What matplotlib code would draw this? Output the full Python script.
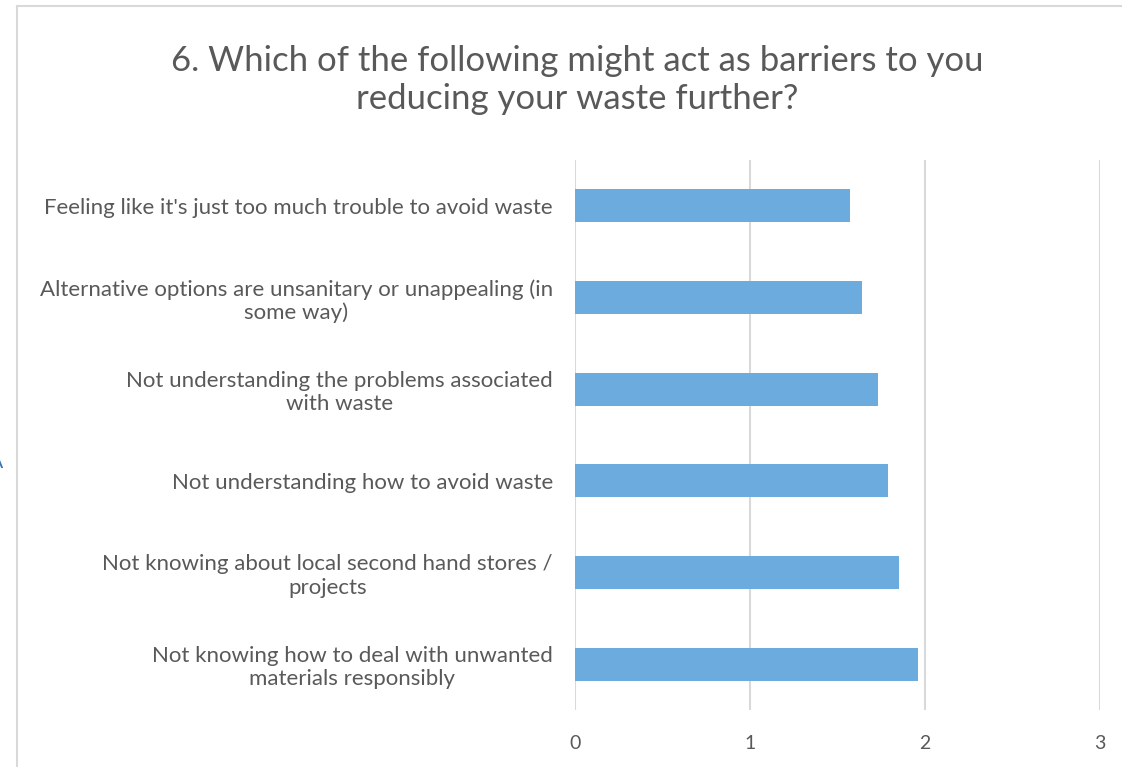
import matplotlib.pyplot as plt
from matplotlib.lines import Line2D

# categories listed top to bottom as in the chart
labels = [
    "Feeling like it's just too much trouble to avoid waste",
    "Alternative options are unsanitary or unappealing (in\nsome way)",
    "Not understanding the problems associated\nwith waste",
    "Not understanding how to avoid waste",
    "Not knowing about local second hand stores /\nprojects",
    "Not knowing how to deal with unwanted\nmaterials responsibly",
]
values = [1.57, 1.64, 1.73, 1.79, 1.85, 1.96]
xticks = [0, 1, 2, 3]
title = "6. Which of the following might act as barriers to you\nreducing your waste further?"

plt.rcParams['font.family'] = ['Lato', 'DejaVu Sans']
txt = '#595959'
grid = '#d9d9d9'

fig = plt.figure(figsize=(11.22, 7.67), dpi=100)
ax = fig.add_axes([575/1122, 1-710/767, 525/1122, 550/767])

ax.barh(range(len(values)), values, height=0.36, color='#6cabdd', zorder=3)
ax.set_ylim(len(values)-0.5, -0.5)
ax.set_xlim(0, 3)
ax.set_xticks(xticks)
ax.set_xticklabels([str(t) for t in xticks], fontsize=14, color=txt)
ax.set_yticks(range(len(values)))
ax.set_yticklabels(labels, fontsize=16, color=txt, multialignment='center',
                   linespacing=1.2)
ax.tick_params(length=0)
ax.tick_params(axis='y', pad=16)
ax.tick_params(axis='x', pad=18)
ax.grid(axis='x', color=grid, linewidth=1.5, zorder=0)
for s in ax.spines.values():
    s.set_visible(False)

fig.text(577/1122, 1-80/767, title, ha='center', va='center', fontsize=25,
         color=txt, linespacing=1.25)

# frame lines of the chart box
fig.add_artist(Line2D([17/1122, 17/1122], [0, 1-6/767], color=grid, linewidth=1.5))
fig.add_artist(Line2D([17/1122, 1], [1-6/767, 1-6/767], color=grid, linewidth=1.5))
fig.text(3/1122, 1-462/767, 'A', ha='right', va='center', fontsize=14, color='#2e75b6')

fig.savefig('out.png', dpi=100)
